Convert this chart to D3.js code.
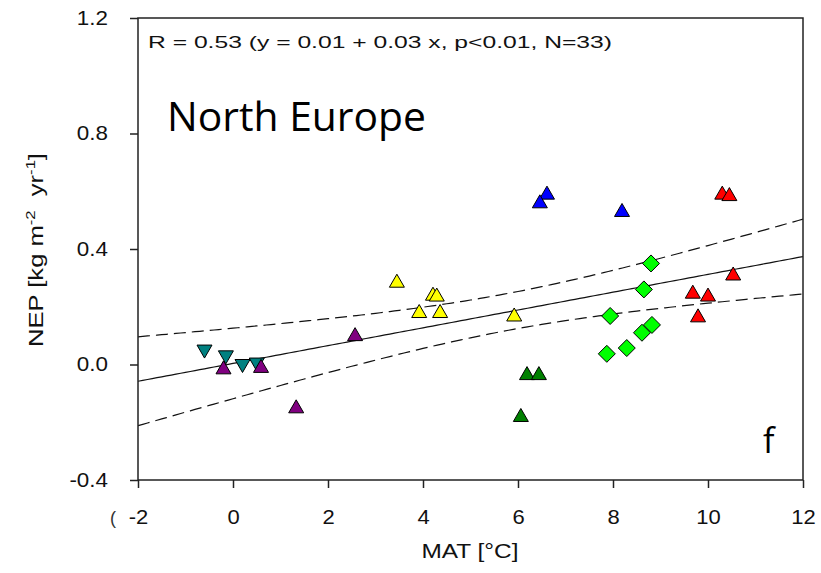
<!DOCTYPE html>
<html>
<head>
<meta charset="utf-8">
<script src="https://cdn.jsdelivr.net/npm/d3@7"></script>
<style>
  html, body { margin: 0; padding: 0; background: #fff; }
  svg { display: block; }
</style>
</head>
<body>
<svg id="chart" width="821" height="573"></svg>
<script>
// ---- data ----
const groupNames  = ["teal", "purple", "yellow", "darkgreen", "blue", "lime", "red"];
const groupShapes = ["down", "up", "up", "up", "up", "diamond", "up"];
const groupColors = ["#008080", "#800080", "#ffff00", "#008000", "#0000ff", "#00ff00", "#ff0000"];

const tealMAT   = [-0.6, -0.15, 0.2, 0.5];
const tealNEP   = [0.05, 0.03, 0.0, 0.005];
const purpleMAT = [-0.2, 0.59, 1.33, 2.57];
const purpleNEP = [-0.015, -0.01, -0.15, 0.10];
const yellowMAT = [3.45, 3.92, 4.21, 4.29, 4.36, 5.92];
const yellowNEP = [0.285, 0.18, 0.24, 0.237, 0.18, 0.168];
const dkgreenMAT = [6.19, 6.44, 6.06];
const dkgreenNEP = [-0.035, -0.035, -0.18];
const blueMAT   = [6.61, 6.46, 8.19];
const blueNEP   = [0.59, 0.56, 0.53];
const limeMAT   = [8.8, 8.65, 7.94, 8.61, 8.82, 8.29, 7.87];
const limeNEP   = [0.35, 0.26, 0.168, 0.11, 0.137, 0.057, 0.037];
const redMAT    = [9.68, 10.0, 9.79, 10.53, 10.3, 10.45];
const redNEP    = [0.247, 0.237, 0.165, 0.31, 0.59, 0.585];

const xTicks = [-2, 0, 2, 4, 6, 8, 10, 12];
const yTicks = [-0.4, 0.0, 0.4, 0.8, 1.2];
const annotation = "R = 0.53 (y = 0.01 + 0.03 x, p<0.01, N=33)";
const regionTitle = "North Europe";
const panelLetter = "f";

// ---- layout ----
const svg = d3.select("#chart");
const L = 138, R = 803, T = 18, B = 480;
const x = d3.scaleLinear().domain([-2, 12]).range([L, R]);
const y = d3.scaleLinear().domain([-0.4, 1.2]).range([B, T]);
const axisFont = "'Liberation Sans', Arial, sans-serif";

function stretch(sel, factor) {
  sel.each(function () {
    const w = this.getComputedTextLength();
    this.setAttribute("textLength", w * factor);
    this.setAttribute("lengthAdjust", "spacingAndGlyphs");
  });
}

const groupsX = [tealMAT, purpleMAT, yellowMAT, dkgreenMAT, blueMAT, limeMAT, redMAT];
const groupsY = [tealNEP, purpleNEP, yellowNEP, dkgreenNEP, blueNEP, limeNEP, redNEP];
const points = [];
groupsX.forEach((gx, gi) => gx.forEach((v, i) => points.push({x: v, y: groupsY[gi][i], g: gi})));

// ---- regression + 95% confidence band ----
const n = points.length;
const mx = d3.mean(points, d => d.x), my = d3.mean(points, d => d.y);
const sxx = d3.sum(points, d => (d.x - mx) ** 2);
const sxy = d3.sum(points, d => (d.x - mx) * (d.y - my));
const b1 = sxy / sxx, b0 = my - b1 * mx;
const sse = d3.sum(points, d => (d.y - b0 - b1 * d.x) ** 2);
const s = Math.sqrt(sse / (n - 2));
const tcrit = 2.04;
const xs = d3.range(-2, 12.001, 0.1);
const fit = xs.map(v => ({x: v, y: b0 + b1 * v, h: tcrit * s * Math.sqrt(1 / n + (v - mx) ** 2 / sxx)}));

svg.append("clipPath").attr("id", "plotclip")
  .append("rect").attr("x", L).attr("y", T).attr("width", R - L).attr("height", B - T);
const plot = svg.append("g").attr("clip-path", "url(#plotclip)");

plot.append("path").datum(fit)
  .attr("d", d3.line().x(d => x(d.x)).y(d => y(d.y)))
  .attr("fill", "none").attr("stroke", "#111").attr("stroke-width", 1.2);
plot.append("path").datum(fit)
  .attr("d", d3.line().x(d => x(d.x)).y(d => y(d.y + d.h)))
  .attr("fill", "none").attr("stroke", "#111").attr("stroke-width", 1.2)
  .attr("stroke-dasharray", "12,6");
plot.append("path").datum(fit)
  .attr("d", d3.line().x(d => x(d.x)).y(d => y(d.y - d.h)))
  .attr("fill", "none").attr("stroke", "#111").attr("stroke-width", 1.2)
  .attr("stroke-dasharray", "12,6");

// ---- markers ----
function shapePath(kind) {
  if (kind === "up") return "M0,-8L7.5,5L-7.5,5Z";
  if (kind === "down") return "M0,8L7.5,-5L-7.5,-5Z";
  return "M0,-8.5L8.5,0L0,8.5L-8.5,0Z";
}
svg.append("g").selectAll("path.pt").data(points).join("path")
  .attr("class", "pt")
  .attr("transform", d => `translate(${x(d.x)},${y(d.y)})`)
  .attr("d", d => shapePath(groupShapes[d.g]))
  .attr("fill", d => groupColors[d.g])
  .attr("stroke", "#000").attr("stroke-width", 1)
  .attr("stroke-linejoin", "miter");

// ---- frame & axes ----
svg.append("rect").attr("x", L).attr("y", T).attr("width", R - L).attr("height", B - T)
  .attr("fill", "none").attr("stroke", "#222").attr("stroke-width", 1.5);

const xAxis = d3.axisBottom(x).tickValues(xTicks).tickSize(8).tickFormat(d3.format("d"));
const gx = svg.append("g").attr("transform", `translate(0,${B})`).call(xAxis);
gx.select(".domain").remove();
gx.selectAll("line").attr("stroke", "#222").attr("stroke-width", 1.5);
gx.selectAll("text").attr("font-family", axisFont).attr("font-size", 20)
  .attr("fill", "#111").attr("y", 44).attr("dy", 0)
  .text(d => d < 0 ? "-" + Math.abs(d) : d);
stretch(gx.selectAll("text"), 1.1);

const yAxis = d3.axisLeft(y).tickValues(yTicks).tickSize(8).tickFormat(d3.format(".1f"));
const gy = svg.append("g").attr("transform", `translate(${L},0)`).call(yAxis);
gy.select(".domain").remove();
gy.selectAll("line").attr("stroke", "#222").attr("stroke-width", 1.5);
gy.selectAll("text").attr("font-family", axisFont).attr("font-size", 20)
  .attr("fill", "#111").attr("x", -30).text(d => d3.format(".1f")(d).replace("−", "-"));
stretch(gy.selectAll("text"), 1.12);

// stray glyph seen at the left of the x tick labels
svg.append("text").attr("x", 110).attr("y", 524).attr("font-family", axisFont)
  .attr("font-size", 18).attr("fill", "#333").text("(");

// axis titles
const xt = svg.append("text").attr("x", 470).attr("y", 558).attr("text-anchor", "middle")
  .attr("font-family", axisFont).attr("font-size", 20).attr("fill", "#111").text("MAT [°C]");
xt.attr("textLength", 97).attr("lengthAdjust", "spacingAndGlyphs");

const yl = svg.append("text").attr("transform", "translate(43,250) rotate(-90)")
  .attr("text-anchor", "middle").attr("font-family", axisFont).attr("font-size", 20).attr("fill", "#111");
yl.append("tspan").text("NEP [kg m");
yl.append("tspan").attr("font-size", 13).attr("dy", -8).text("-2");
yl.append("tspan").attr("dy", 8).text("\u00a0\u00a0yr");
yl.append("tspan").attr("font-size", 13).attr("dy", -8).text("-1");
yl.append("tspan").attr("dy", 8).text("]");
yl.attr("textLength", 194).attr("lengthAdjust", "spacingAndGlyphs");

// annotations
svg.append("text").attr("x", 148).attr("y", 48).attr("font-family", axisFont)
  .attr("font-size", 17).attr("fill", "#111")
  .attr("textLength", 464).attr("lengthAdjust", "spacingAndGlyphs").text(annotation);
svg.append("text").attr("x", 167).attr("y", 131).attr("font-family", "'Open Sans', sans-serif")
  .attr("font-size", 40).attr("fill", "#000")
  .attr("textLength", 259).attr("lengthAdjust", "spacingAndGlyphs").text(regionTitle);
svg.append("text").attr("x", 763).attr("y", 453).attr("font-family", "'Open Sans', sans-serif")
  .attr("font-size", 34).attr("fill", "#000").text(panelLetter);
</script>
</body>
</html>
